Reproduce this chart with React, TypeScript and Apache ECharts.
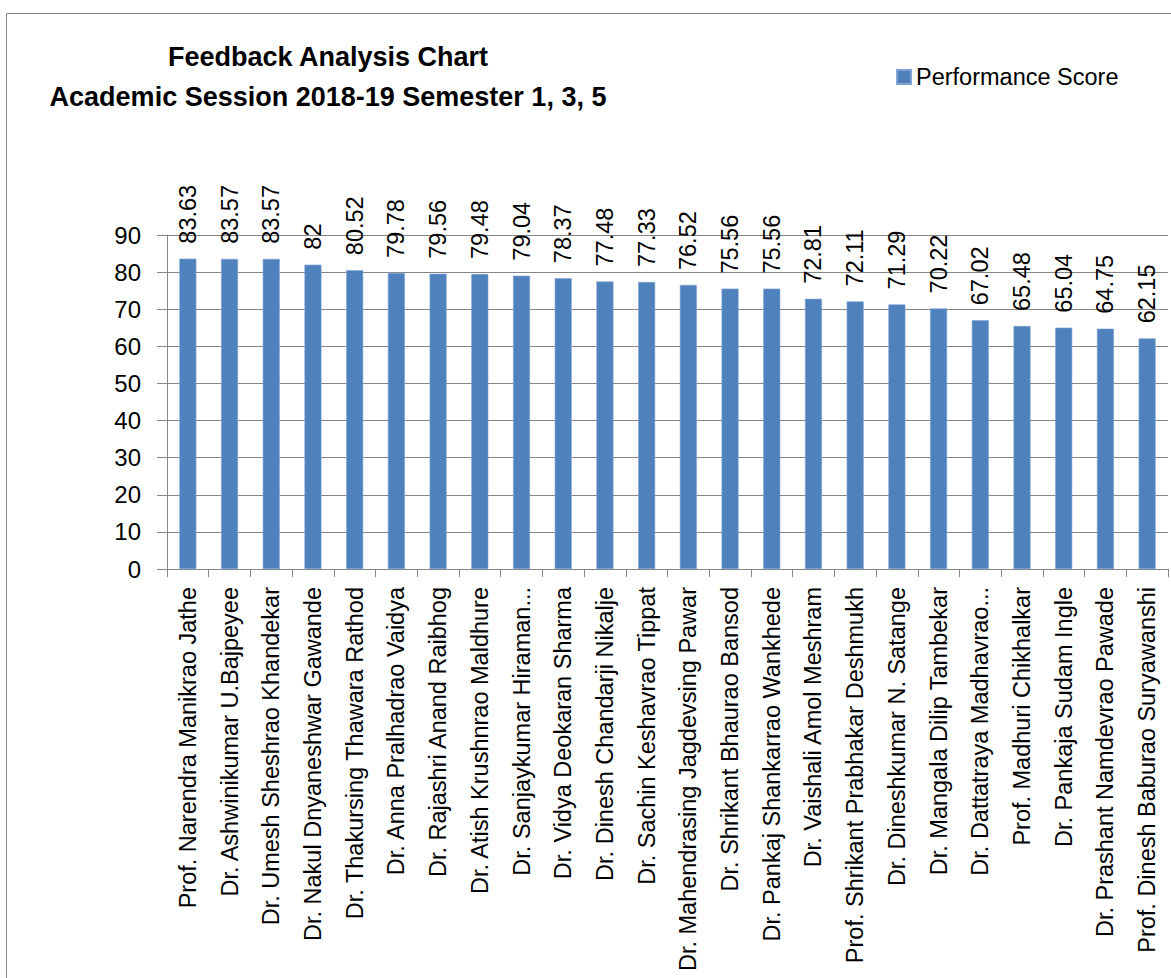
import React, { useEffect, useRef } from "react";
import * as echarts from "echarts";

const titleLine1 = "Feedback Analysis Chart";
const titleLine2 = "Academic Session 2018-19 Semester 1, 3, 5";
const seriesName = "Performance Score";

const categories: string[] = [
  "Prof. Narendra Manikrao Jathe",
  "Dr. Ashwinikumar U.Bajpeyee",
  "Dr. Umesh Sheshrao Khandekar",
  "Dr. Nakul Dnyaneshwar Gawande",
  "Dr. Thakursing Thawara Rathod",
  "Dr. Anna Pralhadrao Vaidya",
  "Dr. Rajashri Anand Raibhog",
  "Dr. Atish Krushnrao Maldhure",
  "Dr. Sanjaykumar Hiraman...",
  "Dr. Vidya Deokaran Sharma",
  "Dr. Dinesh Chandarji Nikalje",
  "Dr. Sachin Keshavrao Tippat",
  "Dr. Mahendrasing Jagdevsing Pawar",
  "Dr. Shrikant Bhaurao Bansod",
  "Dr. Pankaj Shankarrao Wankhede",
  "Dr. Vaishali Amol Meshram",
  "Prof. Shrikant Prabhakar Deshmukh",
  "Dr. Dineshkumar N. Satange",
  "Dr. Mangala Dilip Tambekar",
  "Dr. Dattatraya Madhavrao...",
  "Prof. Madhuri Chikhalkar",
  "Dr. Pankaja Sudam Ingle",
  "Dr. Prashant Namdevrao Pawade",
  "Prof. Dinesh Baburao Suryawanshi",
];

const scores: number[] = [
  83.63, 83.57, 83.57, 82, 80.52, 79.78, 79.56, 79.48, 79.04, 78.37, 77.48,
  77.33, 76.52, 75.56, 75.56, 72.81, 72.11, 71.29, 70.22, 67.02, 65.48, 65.04,
  64.75, 62.15,
];

const yMin = 0;
const yMax = 90;
const yInterval = 10;

const FONT = "'Liberation Sans', Arial, sans-serif";

export default function App() {
  const ref = useRef<HTMLDivElement>(null);

  useEffect(() => {
    if (!ref.current) return;
    const chart = echarts.init(ref.current, undefined, { renderer: "svg" });
    chart.setOption({
      animation: false,
      backgroundColor: "#ffffff",
      textStyle: { fontFamily: FONT },
      graphic: [
        {
          type: "rect",
          shape: { x: 6.5, y: 13.5, width: 1200, height: 1000 },
          style: { fill: "none", stroke: "#868686", lineWidth: 1 },
          silent: true,
          z: -10,
        },
        {
          type: "text",
          x: 328,
          y: 57,
          style: {
            text: titleLine1,
            fill: "#000",
            font: `bold 27px ${FONT}`,
            align: "center",
            verticalAlign: "middle",
          },
        },
        {
          type: "text",
          x: 328,
          y: 97,
          style: {
            text: titleLine2,
            fill: "#000",
            font: `bold 27px ${FONT}`,
            align: "center",
            verticalAlign: "middle",
          },
        },
      ],
      legend: {
        left: 891,
        top: 60,
        itemWidth: 14,
        itemHeight: 14,
        itemGap: 6,
        icon: "rect",
        data: [seriesName],
        textStyle: { fontSize: 23.5, color: "#000", fontFamily: FONT },
      },
      grid: { left: 167, top: 235, right: 3, bottom: 409, containLabel: false },
      xAxis: {
        type: "category",
        data: categories,
        axisLine: { show: true, lineStyle: { color: "#868686", width: 1 } },
        axisTick: { show: true, alignWithLabel: false, length: 8, interval: 0, lineStyle: { color: "#868686" } },
        axisLabel: {
          interval: 0,
          rotate: 90,
          margin: 18,
          fontSize: 23.5,
          color: "#000",
          fontFamily: FONT,
        },
        splitLine: { show: false },
      },
      yAxis: {
        type: "value",
        min: yMin,
        max: yMax,
        interval: yInterval,
        axisLine: { show: true, lineStyle: { color: "#868686", width: 1 } },
        axisTick: { show: true, length: 10, lineStyle: { color: "#868686" } },
        axisLabel: { margin: 26, fontSize: 24, color: "#000", fontFamily: FONT },
        splitLine: { show: true, lineStyle: { color: "#868686", width: 1 } },
      },
      series: [
        {
          name: seriesName,
          type: "bar",
          data: scores,
          barWidth: 17,
          itemStyle: { color: "#4F81BD", borderColor: "#7fa3d3", borderWidth: 0.6 },
          label: {
            show: true,
            position: "top",
            rotate: 90,
            align: "left",
            verticalAlign: "middle",
            distance: 15,
            fontSize: 23.5,
            color: "#000",
            fontFamily: FONT,
          },
        },
      ],
    });
    return () => chart.dispose();
  }, []);

  return (
    <div
      ref={ref}
      style={{ position: "absolute", left: 0, top: 0, width: 1171, height: 978 }}
    />
  );
}
